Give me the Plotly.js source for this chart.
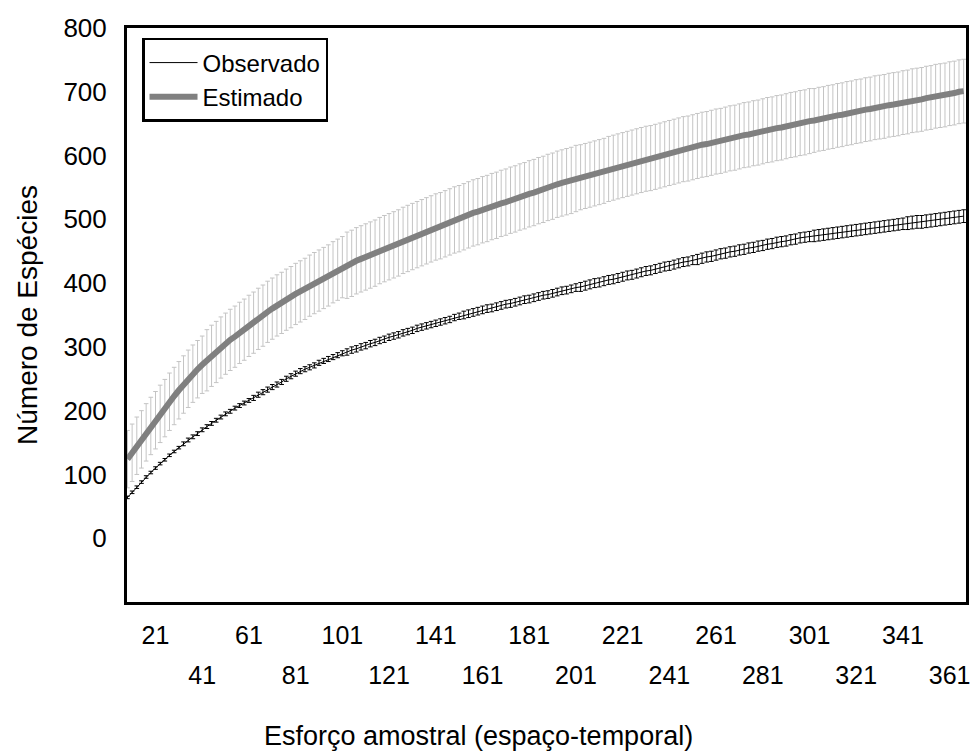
<!DOCTYPE html>
<html>
<head>
<meta charset="utf-8">
<script src="https://cdn.plot.ly/plotly-3.0.1.min.js"></script>
<style>html,body{margin:0;padding:0;background:#fff;}#chart{width:975px;height:751px;}</style>
</head>
<body>
<div id="chart"></div>
<script>
// Sampling effort index (x positions of every plotted point)
const esforco = Array.from({length: 180}, (_, i) => 9 + 2 * i);

// Observed species (mean)
const observado = [
64,72,80,88,96,103,110,
117,123,130,136,142,148,154,
159,164,170,175,180,185,190,195,
199,204,208,212,216,220,225,229,233,237,
241,245,250,254,258,
262,265,268,271,275,278,281,284,287,290,
292,295,297,300,302,305,307,310,312,315,317,319,322,324,326,329,
331,333,335,337,339,341,343,346,348,350,352,354,356,358,
360,361,363,365,367,368,370,372,374,375,377,379,381,382,384,386,
388,389,391,393,394,396,398,400,401,403,405,406,408,410,
412,413,415,417,419,420,422,424,426,427,429,431,
433,434,436,437,439,441,442,444,446,447,449,450,452,
453,455,456,458,459,461,462,464,465,466,468,469,
471,472,473,474,475,476,477,478,479,480,481,482,483,484,485,486,487,488,
489,490,491,492,493,494,495,496,496,497,498,499,500,501,502,503,504,505
];
// Observed error (+/-)
const observadoErr = [
2,2,2,2,2,2,2,2,2,2,2,2,
3,3,3,3,3,3,3,3,3,3,3,3,3,3,3,
4,4,4,4,4,4,4,4,4,4,4,4,4,4,4,4,4,4,4,4,
5,5,5,5,5,5,5,5,5,5,5,5,5,5,5,5,5,5,5,5,5,5,5,5,5,
6,6,6,6,6,6,6,6,6,6,6,6,6,6,6,6,6,6,6,6,6,6,6,6,6,
7,7,7,7,7,7,7,7,7,7,7,7,7,7,7,7,7,7,7,7,7,7,7,7,7,
8,8,8,8,8,8,8,8,8,8,8,8,8,8,8,8,8,8,8,8,8,8,8,8,8,
9,9,9,9,9,9,9,9,9,9,9,9,9,9,9,9,9,9,9,9,
10,10,10,10,10,10,10,10,10,10,10,10,10
];

// Estimated species (mean)
const estimado = [
124,134,145,155,166,176,185,
195,204,214,223,232,241,250,
258,265,272,279,286,292,299,305,
311,316,322,327,333,338,344,349,355,360,
365,369,374,378,383,
387,391,396,400,404,408,412,417,421,425,
428,431,435,438,441,444,447,451,454,457,460,463,467,470,473,476,
479,482,485,488,490,493,496,499,501,504,507,510,512,515,
517,520,522,525,527,530,532,535,537,540,542,545,547,550,552,555,
557,559,561,564,566,568,570,572,574,576,579,581,583,585,
587,589,591,593,595,596,598,600,602,604,606,608,
610,611,613,615,617,618,620,622,623,625,627,628,630,
632,633,635,636,638,640,641,643,644,646,648,649,
651,652,654,655,657,658,660,661,663,664,666,667,669,670,672,673,675,676,
677,679,680,681,683,684,686,687,688,690,691,693,694,695,697,698,700,701
];
// Estimated error (+/-)
const estimadoErr = [
45,45,45,45,45,45,45,45,45,45,45,45,45,45,45,45,45,
48,48,48,48,48,48,48,48,48,48,48,48,48,48,48,48,48,48,48,48,48,48,48,48,48,48,48,48,48,48,
52,52,52,52,52,52,52,52,52,52,52,52,52,52,52,52,52,52,52,52,52,52,52,52,52,
52,52,52,52,52,52,52,52,52,52,52,52,52,52,52,52,52,52,52,52,52,52,52,52,52,
51,51,51,51,51,51,51,51,51,51,51,51,51,51,51,51,51,51,51,51,51,51,51,51,51,
51,51,51,51,51,51,51,51,51,51,51,51,51,51,51,51,51,51,51,51,51,51,51,51,51,
50,50,50,50,50,50,50,50,50,50,50,50,50,50,50,50,50,50,50,50,50,50,50,50,50,50,50,50,50,50,50,50,50
];

// Tick labels (two staggered rows)
const ticksRow1 = [21, 61, 101, 141, 181, 221, 261, 301, 341];
const ticksRow2 = [41, 81, 121, 161, 201, 241, 281, 321, 361];
const yTicks = [0, 100, 200, 300, 400, 500, 600, 700, 800];

const FONT = 'Liberation Sans, Arial, sans-serif';
const XR = [8.8, 368.0];

const traces = [
  {
    x: esforco, y: observado, name: 'Observado', type: 'scatter', mode: 'lines',
    line: {color: '#000000', width: 1},
    error_y: {type: 'data', array: observadoErr, visible: true, color: '#000000', thickness: 1, width: 2.3}
  },
  {
    x: esforco, y: estimado, name: 'Estimado', type: 'scatter', mode: 'lines',
    line: {color: '#808080', width: 6},
    error_y: {type: 'data', array: estimadoErr, visible: true, color: '#c4c4c4', thickness: 1, width: 2.3}
  },
  // empty trace so that the second row of x tick labels (xaxis2) gets drawn
  {x: [], y: [], xaxis: 'x2', yaxis: 'y', type: 'scatter', mode: 'lines', showlegend: false, hoverinfo: 'skip'}
];

const layout = {
  width: 975, height: 751,
  margin: {l: 127, r: 9, t: 28, b: 149},
  paper_bgcolor: '#ffffff', plot_bgcolor: '#ffffff',
  font: {family: FONT, size: 24, color: '#000000'},
  showlegend: true,
  legend: {
    x: 0.0179, y: 0.9826, xanchor: 'left', yanchor: 'top',
    bgcolor: '#ffffff', bordercolor: '#000000', borderwidth: 2.5,
    font: {family: FONT, size: 24, color: '#000000'},
    itemwidth: 48, tracegroupgap: 0
  },
  xaxis: {
    range: XR, showgrid: false, zeroline: false,
    showline: true, linecolor: '#000000', linewidth: 3, mirror: true,
    ticks: '', tickmode: 'array', tickvals: ticksRow1, ticktext: ticksRow1.map(String),
    tickfont: {family: FONT, size: 25, color: '#000000'},
    ticklabelstandoff: 9
  },
  xaxis2: {
    overlaying: 'x', anchor: 'y', side: 'bottom',
    range: XR, showgrid: false, zeroline: false, showline: false,
    ticks: '', tickmode: 'array', tickvals: ticksRow2, ticktext: ticksRow2.map(String),
    tickfont: {family: FONT, size: 25, color: '#000000'},
    ticklabelstandoff: 56
  },
  yaxis: {
    range: [-100, 800], showgrid: false, zeroline: false,
    showline: true, linecolor: '#000000', linewidth: 3, mirror: true,
    ticks: '', tickmode: 'array', tickvals: yTicks, ticktext: yTicks.map(String),
    tickfont: {family: FONT, size: 26, color: '#000000'},
    ticklabelstandoff: 12,
    title: {text: 'Número de Espécies', font: {family: FONT, size: 28, color: '#000000'}, standoff: 18}
  },
  annotations: [{
    text: 'Esforço amostral (espaço-temporal)', xref: 'paper', yref: 'paper',
    x: (478 - 127) / 839, y: -(753 - 602) / 574, xanchor: 'center', yanchor: 'bottom',
    showarrow: false, font: {family: FONT, size: 27, color: '#000000'}
  }]
};

Plotly.newPlot('chart', traces, layout, {displayModeBar: false, staticPlot: true});
</script>
</body>
</html>
